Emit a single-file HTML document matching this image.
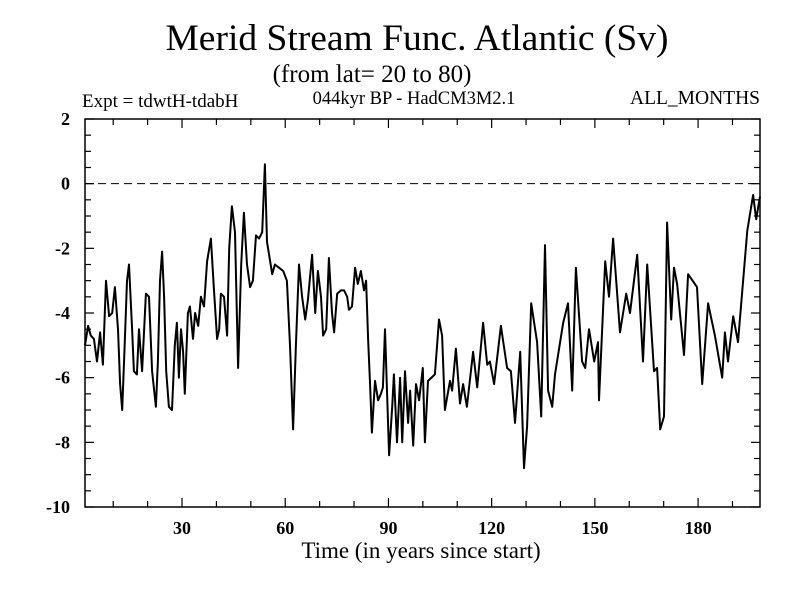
<!DOCTYPE html>
<html><head><meta charset="utf-8"><style>
html,body{margin:0;padding:0;background:#fff;}
svg text{font-family:"Liberation Serif",serif;fill:#000;}
</style></head><body>
<svg id="chart" width="800" height="600" xmlns="http://www.w3.org/2000/svg">
<text x="417" y="50" font-size="37.5" text-anchor="middle">Merid Stream Func. Atlantic (Sv)</text>
<text x="372" y="82" font-size="25" text-anchor="middle">(from lat= 20 to 80)</text>
<text x="82" y="107" font-size="19">Expt = tdwtH-tdabH</text>
<text x="414" y="104" font-size="18.5" text-anchor="middle">044kyr BP - HadCM3M2.1</text>
<text x="760" y="104" font-size="19.5" text-anchor="end">ALL_MONTHS</text>
<g id="axes"></g>
<text x="421" y="558" font-size="23" text-anchor="middle">Time (in years since start)</text>
</svg>
<script>
const years=[1.8,2.7,3.5,4.4,5.3,6.2,7.0,7.9,8.8,9.7,10.5,11.4,12.0,12.6,13.4,14.0,14.6,15.5,16.0,16.9,17.5,18.4,19.5,20.4,21.3,22.4,23.0,23.6,24.2,24.8,25.4,26.2,27.1,27.9,28.5,29.1,29.7,30.3,30.8,31.7,32.3,33.2,33.8,34.7,35.5,36.4,37.3,38.4,39.3,40.2,40.8,41.3,42.2,43.1,43.7,44.5,45.4,46.3,47.2,48.0,48.9,49.8,50.6,51.5,52.4,53.3,54.1,54.7,55.3,56.2,57.0,58.2,59.4,60.5,61.4,62.3,63.1,64.0,64.9,65.8,66.6,67.8,68.7,69.5,70.4,71.0,71.9,72.7,73.6,74.2,75.1,76.2,77.1,78.0,78.5,79.4,80.3,81.1,82.0,82.9,83.5,84.1,84.7,85.2,86.1,87.0,87.8,88.4,89.0,89.6,90.2,91.1,91.6,92.5,93.4,94.0,94.8,95.7,96.3,97.2,98.0,98.9,100.0,100.6,101.5,103.5,104.7,105.6,106.4,107.9,108.5,109.6,110.8,111.7,112.8,114.6,115.8,117.5,118.7,119.5,120.7,122.7,124.5,125.6,126.8,128.3,129.4,130.3,131.5,133.2,134.4,135.5,136.4,137.6,138.4,140.8,142.2,143.4,144.5,146.3,147.2,148.3,149.8,150.9,151.2,153.0,154.1,155.3,157.3,159.1,160.2,162.3,164.0,165.2,167.2,168.1,169.0,170.1,171.0,172.2,173.0,173.9,175.9,177.1,179.7,181.2,182.9,184.9,187.0,187.8,188.7,190.2,191.6,194.3,196.0,196.9,198.0];
const streamValues=[-5.0,-4.4,-4.7,-4.8,-5.5,-4.6,-5.6,-3.0,-4.1,-4.0,-3.2,-4.5,-6.2,-7.0,-4.8,-3.0,-2.5,-4.5,-5.8,-5.9,-4.5,-5.8,-3.4,-3.5,-5.8,-6.9,-5.5,-3.0,-2.1,-3.5,-5.8,-6.9,-7.0,-5.0,-4.3,-6.0,-4.5,-5.2,-6.5,-4.0,-3.8,-4.8,-4.0,-4.4,-3.5,-3.8,-2.4,-1.7,-3.3,-4.8,-4.5,-3.4,-3.5,-4.7,-2.0,-0.7,-1.5,-5.7,-2.5,-0.9,-2.5,-3.2,-3.0,-1.6,-1.7,-1.5,0.6,-1.8,-2.2,-2.8,-2.5,-2.6,-2.7,-3.0,-5.0,-7.6,-5.0,-2.5,-3.5,-4.2,-3.6,-2.2,-4.0,-2.7,-3.5,-4.7,-4.5,-2.3,-4.0,-4.6,-3.4,-3.3,-3.3,-3.5,-3.9,-3.8,-2.6,-3.1,-2.7,-3.3,-3.0,-4.8,-6.3,-7.7,-6.1,-6.7,-6.5,-6.3,-4.5,-6.5,-8.4,-6.9,-5.9,-8.0,-6.0,-8.0,-5.8,-7.4,-6.4,-8.1,-6.2,-6.7,-5.7,-8.0,-6.1,-5.9,-4.2,-4.7,-7.0,-6.1,-6.4,-5.1,-6.8,-6.2,-6.9,-5.2,-6.3,-4.3,-5.6,-5.5,-6.2,-4.4,-5.7,-5.8,-7.4,-5.2,-8.8,-7.5,-3.7,-4.9,-7.2,-1.9,-6.4,-6.9,-5.9,-4.3,-3.7,-6.4,-2.6,-5.5,-5.7,-4.5,-5.5,-4.9,-6.7,-2.4,-3.5,-1.7,-4.6,-3.4,-4.0,-2.2,-5.5,-2.5,-5.8,-5.7,-7.6,-7.2,-1.2,-4.2,-2.6,-3.1,-5.3,-2.8,-3.2,-6.2,-3.7,-4.7,-6.0,-4.6,-5.5,-4.1,-4.9,-1.45,-0.35,-1.1,-0.4];
const xTickLabels=[30,60,90,120,150,180];
const yTickLabels=[2,0,-2,-4,-6,-8,-10];

const NS='http://www.w3.org/2000/svg';
const L=85,R=760,T=119,B=507,X0=1.8,X1=198,Y0=-10,Y1=2;
const sx=v=>L+(v-X0)/(X1-X0)*(R-L);
const sy=v=>B-(v-Y0)/(Y1-Y0)*(B-T);
const g=document.getElementById('axes');
function mk(tag,attrs){const e=document.createElementNS(NS,tag);for(const k in attrs)e.setAttribute(k,attrs[k]);g.appendChild(e);return e;}

const frame=mk('rect',{x:L,y:T,width:R-L,height:B-T,fill:'none',stroke:'#000','stroke-width':1.5});



for(let v=10;v<X1;v+=10){const major=v%30===0;const len=major?9:6;
 const t1=mk('line',{x1:sx(v),x2:sx(v),y1:B,y2:B-len,stroke:'#000','stroke-width':1.2});
 
 
 const t2=mk('line',{x1:sx(v),x2:sx(v),y1:T,y2:T+len,stroke:'#000','stroke-width':1.2});
 
 }
xTickLabels.forEach(v=>{const t=mk('text',{x:sx(v),y:B+27,'font-size':18,'font-weight':'bold','text-anchor':'middle'});t.textContent=v;
 
 });

for(let v=Y0;v<=Y1+0.001;v+=0.5){const major=Math.abs(v%2)<0.001;const len=major?9:6;
 const t1=mk('line',{x1:L,x2:L+len,y1:sy(v),y2:sy(v),stroke:'#000','stroke-width':1.2});
 
 
 const t2=mk('line',{x1:R,x2:R-len,y1:sy(v),y2:sy(v),stroke:'#000','stroke-width':1.2});
 
 }
yTickLabels.forEach(v=>{const t=mk('text',{x:L-15,y:sy(v)+6,'font-size':18,'font-weight':'bold','text-anchor':'end'});t.textContent=v;
 
 });

const zl=mk('line',{x1:L,x2:R,y1:sy(0),y2:sy(0),stroke:'#000','stroke-width':1,'stroke-dasharray':'8,5'});



const pts=years.map((y,i)=>sx(y).toFixed(1)+','+sy(streamValues[i]).toFixed(1)).join(' ');
const line=mk('polyline',{points:pts,fill:'none',stroke:'#000','stroke-width':2,'stroke-linejoin':'round'});


</script>
</body></html>
